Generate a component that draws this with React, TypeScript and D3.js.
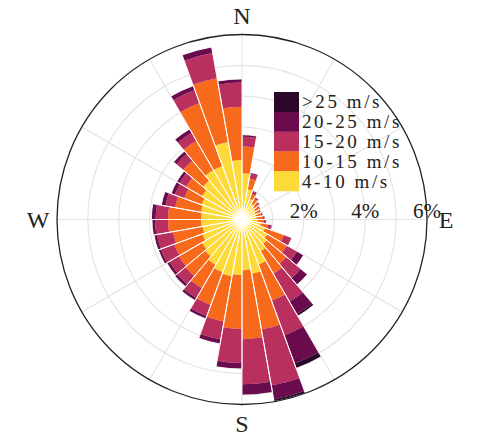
import React from "react";
import * as d3 from "d3";

// Sector start angles (degrees clockwise from North), 10° wide each
const directions = [0, 10, 20, 30, 40, 50, 60, 70, 80, 90, 100, 110, 120, 130, 140, 150, 160, 170,
  180, 190, 200, 210, 220, 230, 240, 250, 260, 270, 280, 290, 300, 310, 320, 330, 340, 350];

// Frequency (%) per speed bin per sector
const speed4to10 = [1.5, 1.0, 0.72, 0.6, 0.55, 0.5, 0.47, 0.47, 0.47, 0.5, 0.62, 0.8, 0.95, 1.05, 1.2, 1.55, 1.79, 1.65,
  1.8, 1.87, 1.82, 1.7, 1.57, 1.5, 1.37, 1.3, 1.33, 1.33, 1.35, 1.4, 1.5, 1.65, 1.85, 1.85, 2.55, 1.93];
const speed10to15 = [0.87, 0.35, 0.18, 0.18, 0.15, 0.15, 0.15, 0.17, 0.21, 0.22, 0.23, 0.65, 0.73, 0.83, 0.83, 1.25, 1.83, 2.23,
  1.75, 1.49, 1.13, 0.88, 0.83, 0.87, 0.97, 0.97, 1.07, 1.07, 0.85, 0.6, 0.6, 0.85, 1.1, 2.17, 2.1, 1.73];
const speed15to20 = [0.31, 0.15, 0.07, 0.05, 0.04, 0.04, 0.04, 0.05, 0.06, 0.07, 0.12, 0.23, 0.38, 0.61, 1.05, 1.2, 1.85, 1.46,
  1.1, 0.59, 0.38, 0.36, 0.35, 0.35, 0.46, 0.53, 0.42, 0.4, 0.32, 0.32, 0.25, 0.28, 0.3, 0.45, 0.83, 0.78];
const speed20to25 = [0.07, 0.05, 0.03, 0.02, 0.02, 0.01, 0.01, 0.01, 0.01, 0.01, 0.03, 0.04, 0.25, 0.28, 0.47, 0.97, 0.45, 0.34,
  0.2, 0.15, 0.1, 0.1, 0.1, 0.1, 0.09, 0.1, 0.1, 0.14, 0.14, 0.13, 0.1, 0.12, 0.14, 0.15, 0.2, 0.12];
const speedOver25 = [0, 0, 0, 0, 0, 0, 0, 0, 0, 0, 0, 0, 0, 0, 0.07, 0.17, 0.08, 0.02,
  0, 0, 0, 0, 0, 0, 0, 0, 0, 0, 0, 0, 0, 0, 0, 0, 0, 0];

const binLabels = ["4-10 m/s", "10-15 m/s", "15-20 m/s", "20-25 m/s", ">25 m/s"];
const binColors = ["#fdd93a", "#f76a1c", "#b92f5e", "#6a0b4e", "#2b0829"];
const series = [speed4to10, speed10to15, speed15to20, speed20to25, speedOver25];

const radialTicks = [1, 2, 3, 4, 5, 6];
const radialLabels = [2, 4, 6];
const spokeAngles = [0, 30, 60, 90, 120, 150, 180, 210, 240, 270, 300, 330];
const compass = [
  { label: "N", angle: 0 },
  { label: "E", angle: 90 },
  { label: "S", angle: 180 },
  { label: "W", angle: 270 },
];

const W = 479, H = 435;
const CX = 242, CY = 219.5, R = 185;
const FONT = "'Liberation Serif', 'DejaVu Serif', serif";

export default function App() {
  const r = d3.scaleLinear().domain([0, 6]).range([0, R]);
  const toRad = (d: number) => (d * Math.PI) / 180;
  const arc = d3.arc<any>();

  const segments: { key: string; d: string; fill: string }[] = [];
  const outlines: { key: string; d: string }[] = [];
  directions.forEach((dir, i) => {
    let cum = 0;
    series.forEach((s, b) => {
      const v = s[i];
      if (v > 0) {
        const d = arc({
          innerRadius: r(cum),
          outerRadius: r(cum + v),
          startAngle: toRad(dir),
          endAngle: toRad(dir + 10),
        }) as string;
        segments.push({ key: `s${i}-${b}`, d, fill: binColors[b] });
      }
      cum += v;
    });
    outlines.push({
      key: `o${i}`,
      d: arc({ innerRadius: 0, outerRadius: r(cum), startAngle: toRad(dir), endAngle: toRad(dir + 10) }) as string,
    });
  });

  const legendRows = [4, 3, 2, 1, 0];
  const legendTop = 92;
  const rowH = 19.8;

  return (
    <svg width={W} height={H} style={{ position: "absolute", left: 0, top: 0, background: "#fff" }}>
      <g transform={`translate(${CX},${CY})`}>
        {radialTicks.slice(0, -1).map((t) => (
          <circle key={`g${t}`} r={r(t)} fill="none" stroke="#e3e3e3" strokeWidth={1.1} />
        ))}
        {spokeAngles.map((a) => (
          <line
            key={`sp${a}`}
            x1={0}
            y1={0}
            x2={R * Math.sin(toRad(a))}
            y2={-R * Math.cos(toRad(a))}
            stroke="#e3e3e3"
            strokeWidth={1.1}
          />
        ))}
        {segments.map((s) => (
          <path key={s.key} d={s.d} fill={s.fill} />
        ))}
        {outlines.map((o) => (
          <path key={o.key} d={o.d} fill="none" stroke="#fff" strokeWidth={0.9} />
        ))}
        <circle r={R} fill="none" stroke="#222" strokeWidth={1.3} />
        {radialLabels.map((t) => (
          <text
            key={`rl${t}`}
            x={r(t)}
            y={-2}
            textAnchor="middle"
            fontFamily={FONT}
            fontSize={21}
            fill="#222"
          >
            {`${t}%`}
          </text>
        ))}
        {compass.map((c) => (
          <text
            key={c.label}
            x={204 * Math.sin(toRad(c.angle))}
            y={-204 * Math.cos(toRad(c.angle))}
            textAnchor="middle"
            dominantBaseline="central"
            fontFamily={FONT}
            fontSize={24}
            fill="#222"
          >
            {c.label}
          </text>
        ))}
      </g>
      <g>
        {legendRows.map((b, k) => (
          <g key={`lg${b}`}>
            <rect x={274} y={legendTop + k * rowH} width={25} height={rowH + 0.3} fill={binColors[b]} />
            <text
              x={302}
              y={legendTop + k * rowH + rowH / 2}
              dominantBaseline="central"
              fontFamily={FONT}
              fontSize={19}
              letterSpacing={2.6}
              fill="#222"
            >
              {binLabels[b]}
            </text>
          </g>
        ))}
      </g>
    </svg>
  );
}
